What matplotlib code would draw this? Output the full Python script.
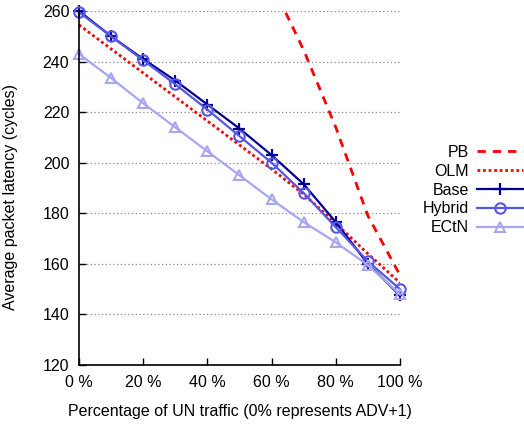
import matplotlib
matplotlib.use("Agg")
import matplotlib.pyplot as plt

plt.rcParams['font.family'] = ['Liberation Sans', 'DejaVu Sans']
plt.rcParams['font.size'] = 11.5

# percentage of UN traffic
un_pct = [0, 10, 20, 30, 40, 50, 60, 70, 80, 90, 100]
pb_pct = [60, 70, 80, 90, 100]

pb = [271, 244.5, 214, 179, 155.5]
olm = [254.5, 245, 235.5, 226, 216.5, 207, 197.5, 187.5, 176, 164, 152.5]
base = [260, 250, 241, 232.5, 223, 213.5, 203, 191.5, 176.5, 160, 147.5]
hybrid = [259.5, 250, 240.5, 231, 221, 210.5, 200, 188, 174.5, 161, 150]
ectn = [243, 233.5, 223.5, 214, 204.5, 195, 185.5, 176.5, 168.5, 159.5, 148]

x_ticks = [0, 20, 40, 60, 80, 100]
x_ticklabels = ['0 %', '20 %', '40 %', '60 %', '80 %', '100 %']
y_ticks = [120, 140, 160, 180, 200, 220, 240, 260]

fig = plt.figure(figsize=(5.24, 4.24), dpi=100)
ax = fig.add_axes([79 / 524, 1 - 365 / 424, 321 / 524, 354 / 424])

red = '#ff0000'
ax.plot(pb_pct, pb, color=red, lw=2, linestyle=(0, (3, 2.5)), label='PB')
ax.plot(un_pct, olm, color=red, lw=2, linestyle=(0, (1, 1)), label='OLM')
ax.plot(un_pct, base, color='#000090', lw=1.6, marker='+', markersize=9,
        markeredgewidth=1.6, label='Base', clip_on=False)
ax.plot(un_pct, hybrid, color='#5656e8', lw=1.6, marker='o', markersize=7.5,
        markerfacecolor='none', markeredgewidth=1.5, label='Hybrid', clip_on=False)
ax.plot(un_pct, ectn, color='#a6a6f4', lw=1.6, marker='^', markersize=7.5,
        markerfacecolor='none', markeredgewidth=1.5, label='ECtN', clip_on=False)

ax.set_xlim(0, 100)
ax.set_ylim(120, 260)
ax.set_xticks(x_ticks)
ax.set_xticklabels(x_ticklabels)
ax.set_yticks(y_ticks)
ax.tick_params(direction='in', length=5, width=1, pad=7, labelsize=11.5)
ax.spines['top'].set_visible(False)
ax.spines['right'].set_visible(False)
for s in ('left', 'bottom'):
    ax.spines[s].set_linewidth(1.2)
ax.yaxis.grid(True, linestyle=(0, (1, 2)), color='#888888', lw=0.9)

ax.set_ylabel('Average packet latency (cycles)')
ax.yaxis.set_label_coords(-61 / 321, 0.475)
ax.set_xlabel('Percentage of UN traffic (0% represents ADV+1)', labelpad=10)

leg = fig.legend(loc='upper right', bbox_to_anchor=(523 / 524, 1 - 145 / 424),
                 frameon=False, markerfirst=False, handlelength=2.9,
                 handletextpad=0.5, labelspacing=0.24, borderpad=0,
                 borderaxespad=0)

fig.savefig('out.png', dpi=100)
